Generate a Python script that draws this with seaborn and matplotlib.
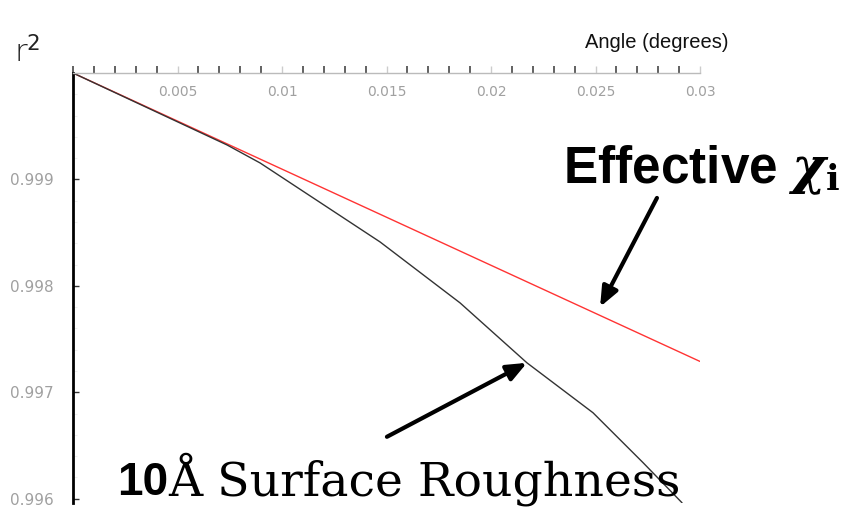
import numpy as np
import pandas as pd
import matplotlib
matplotlib.use("Agg")
import matplotlib.pyplot as plt
import seaborn as sns
from matplotlib.ticker import MultipleLocator, FixedLocator

# ---- data ----
rough_angle = [0.0, 0.00737, 0.00895, 0.01469, 0.01852, 0.02172, 0.02488, 0.02727, 0.02914]
rough_r2 = [1.0, 0.999324, 0.999155, 0.998413, 0.99784, 0.997277, 0.996808, 0.99634, 0.995962]
eff_angle = [0.0, 0.030]
eff_r2 = [1.0, 0.99729]
x_ticks = [0.005, 0.01, 0.015, 0.02, 0.025, 0.03]
x_tick_labels = ["0.005", "0.01", "0.015", "0.02", "0.025", "0.03"]
y_ticks = [0.999, 0.998, 0.997, 0.996]
y_tick_labels = ["0.999", "0.998", "0.997", "0.996"]

sns.set_style("white")
plt.rcParams['font.family'] = ['DejaVu Sans']
plt.rcParams['text.color'] = 'black'

fig = plt.figure(figsize=(8.43, 5.07), dpi=100)
ax = fig.add_axes([73/843, 1-503/507, (700-73)/843, (503-73)/507])

df_eff = pd.DataFrame({"angle": eff_angle, "r2": eff_r2})
df_rough = pd.DataFrame({"angle": rough_angle, "r2": rough_r2})
sns.lineplot(data=df_eff, x="angle", y="r2", ax=ax, color="#ff3333", lw=1.0)
sns.lineplot(data=df_rough, x="angle", y="r2", ax=ax, color="#333333", lw=1.0)

ax.set_xlim(0, 0.030)
ax.set_ylim(0.99596, 1.0)
ax.set_xlabel("")
ax.set_ylabel("")

# spines: x axis drawn at the top (y = 1.0), labels below the line
for s in ["top", "right"]:
    ax.spines[s].set_visible(False)
ax.spines["bottom"].set_position(("data", 1.0))
ax.spines["bottom"].set_color("#bbbbbb")
ax.spines["bottom"].set_linewidth(1.0)
ax.spines["left"].set_color("black")
ax.spines["left"].set_linewidth(2.0)

ax.xaxis.set_major_locator(FixedLocator(x_ticks))
ax.set_xticklabels(x_tick_labels)
ax.xaxis.set_minor_locator(MultipleLocator(0.001))
ax.tick_params(axis="x", which="major", bottom=True, direction="in", length=5, width=1,
               color="#cccccc", labelsize=10, labelcolor="#a0a0a0", pad=9)
ax.tick_params(axis="x", which="minor", bottom=True, direction="in", length=5, width=1.3,
               color="#555555")
ax.set_yticks(y_ticks)
ax.set_yticklabels(y_tick_labels)
ax.yaxis.set_minor_locator(MultipleLocator(0.0002))
ax.tick_params(axis="y", which="major", left=True, direction="in", length=4, width=1,
               color="#333333", labelsize=11, labelcolor="#a0a0a0", pad=14)
ax.tick_params(axis="y", which="minor", left=True, direction="in", length=3, width=0.8,
               color="#eeeeee")
ax.grid(False)

# titles
fig.text(14/843, 1-62/507, r"r$^{2}$", fontsize=22, color="#222222",
         family="DejaVu Sans", fontweight="light", va="baseline")
fig.text(657/843, 1-42/507, "Angle (degrees)", fontsize=14.5, color="#111111",
         family="Liberation Sans", ha="center", va="center")

# annotations
ax.text(0.02344, 0.998967, r"Effective $\boldsymbol{\chi}_{\mathbf{i}}$", fontsize=37,
        fontweight="bold", family="Liberation Sans", math_fontfamily="dejavuserif",
        va="baseline", ha="left", clip_on=False, color="black")
t10 = ax.text(0.0021, 0.996038, "10", fontsize=33, fontweight="bold",
              family="Liberation Sans", va="baseline", ha="left", clip_on=False,
              color="black")
fig.canvas.draw()
bb = t10.get_window_extent()
fig.text(bb.x1/fig.bbox.width, 1-495/507, "Å Surface Roughness", fontsize=34,
         family="DejaVu Serif", va="baseline", ha="left", color="black")

arrow_kw = dict(arrowstyle="-|>,head_length=1.2,head_width=0.5", color="black",
                lw=3, shrinkA=0, shrinkB=0)
ax.annotate("", xy=(0.02522, 0.997803), xytext=(0.02794, 0.998826),
            arrowprops=arrow_kw, annotation_clip=False)
ax.annotate("", xy=(0.02172, 0.997277), xytext=(0.01502, 0.996582),
            arrowprops=arrow_kw, annotation_clip=False)

fig.savefig("out.png", dpi=100)
